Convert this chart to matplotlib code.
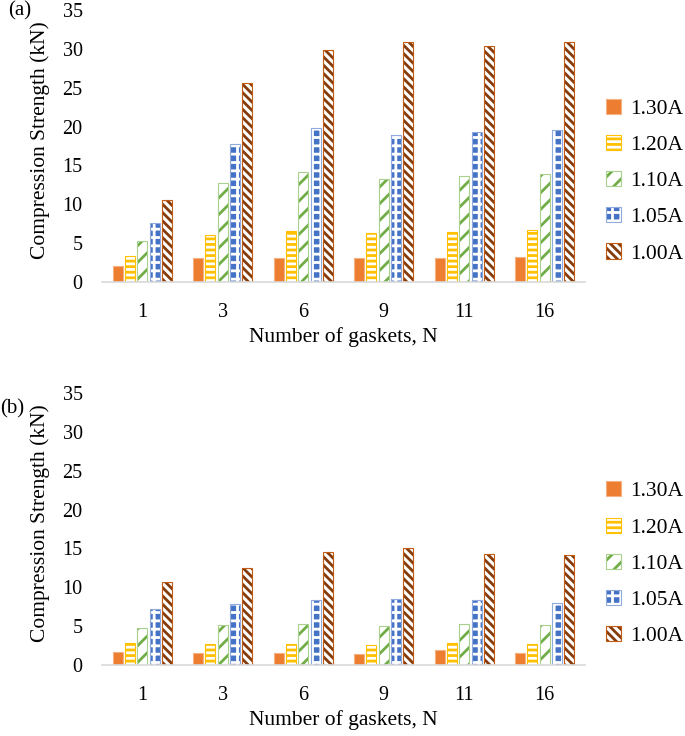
import matplotlib
matplotlib.use('Agg')
import matplotlib.pyplot as plt
import numpy as np

plt.rcParams['font.family'] = ['Liberation Serif', 'DejaVu Serif']
plt.rcParams['hatch.linewidth'] = 2.0

gaskets = ['1', '3', '6', '9', '11', '16']
series = ['1.30A', '1.20A', '1.10A', '1.05A', '1.00A']

# (a)
a_130 = [2.0, 3.1, 3.1, 3.1, 3.1, 3.25]
a_120 = [3.35, 6.05, 6.55, 6.25, 6.45, 6.7]
a_110 = [5.3, 12.7, 14.2, 13.25, 13.6, 13.85]
a_105 = [7.55, 17.7, 19.8, 18.95, 19.35, 19.5]
a_100 = [10.6, 25.6, 29.9, 30.9, 30.4, 30.9]

# (b)
b_130 = [1.7, 1.6, 1.5, 1.4, 1.9, 1.6]
b_120 = [2.8, 2.7, 2.7, 2.6, 2.85, 2.7]
b_110 = [4.8, 5.1, 5.3, 5.0, 5.3, 5.15]
b_105 = [7.25, 7.8, 8.3, 8.5, 8.3, 7.95]
b_100 = [10.7, 12.45, 14.6, 15.0, 14.3, 14.15]

# face, hatch colour, hatch, outline
styles = [
    ('#ED7D31', '#ED7D31', None, '#F4B183'),
    ('#FFC000', 'white', '---', '#FFC000'),
    ('white', '#70AD47', '//', '#A9D18E'),
    ('#4472C4', 'white', '++', '#8FAADC'),
    ('white', '#843C0C', '\\\\\\\\', '#C55A11'),
]

fig = plt.figure(figsize=(6.85, 7.36), dpi=100)
ax1 = fig.add_axes([0.149, 0.6168, 0.705, 0.3696])
ax2 = fig.add_axes([0.149, 0.0965, 0.705, 0.3696])

x = np.arange(len(gaskets))
step = 0.153
w = 0.124

for ax, data, tag, tag_xy, leg_y in [
        (ax1, [a_130, a_120, a_110, a_105, a_100], '(a)', (0.012, 0.998), 0.754),
        (ax2, [b_130, b_120, b_110, b_105, b_100], '(b)', (0.0, 0.458), 0.234)]:
    handles = []
    for i, vals in enumerate(data):
        face, hc, h, edge = styles[i]
        xs = x + (i - 2) * step
        b = ax.bar(xs, vals, w, color=face, edgecolor=hc, hatch=h, linewidth=0)
        b2 = ax.bar(xs, vals, w, fill=False, edgecolor=edge, linewidth=0.8)
        handles.append((b, b2))
    ax.set_ylim(0, 35)
    ax.set_yticks(range(0, 36, 5))
    ax.set_xlim(-0.5, len(gaskets) - 0.5)
    ax.set_xticks(x)
    ax.set_xticklabels(gaskets)
    for s in ['top', 'right', 'left']:
        ax.spines[s].set_visible(False)
    ax.spines['bottom'].set_color('#D9D9D9')
    ax.spines['bottom'].set_linewidth(1.2)
    ax.tick_params(axis='y', length=0, pad=14, labelsize=14.5)
    ax.tick_params(axis='x', length=0, pad=15, labelsize=14.5)
    ax.set_ylabel('Compression Strength (kN)', fontsize=15.5)
    ax.yaxis.set_label_coords(-0.108, 0.52)
    ax.set_xlabel('Number of gaskets, N', fontsize=15.5, labelpad=4)
    fig.text(tag_xy[0], tag_xy[1], tag, fontsize=15, va='top', ha='left')
    fig.legend(handles, series, loc='center left', bbox_to_anchor=(0.885, leg_y),
               frameon=False, fontsize=15.5, handlelength=0.7, handleheight=0.7,
               handletextpad=0.4, labelspacing=0.75, borderpad=0, borderaxespad=0)

fig.savefig('out.png', dpi=100)
